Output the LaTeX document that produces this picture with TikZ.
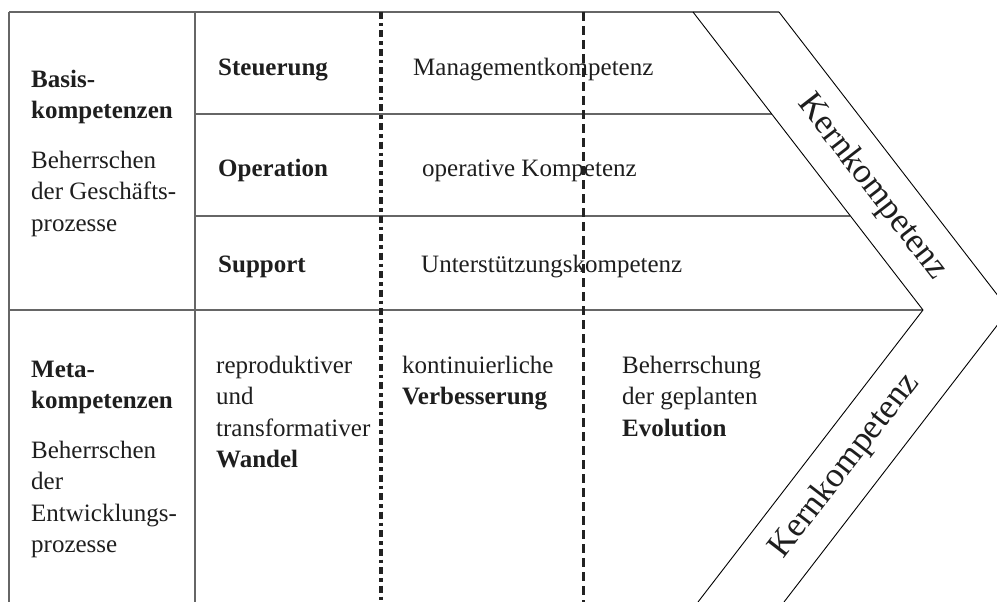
\documentclass[tikz,border=0pt]{standalone}
\usepackage{fontspec}
\setmainfont{Liberation Serif}
\definecolor{framecol}{HTML}{666666}
\definecolor{dashcol}{HTML}{222222}
\definecolor{textcol}{HTML}{1E1E1E}
\begin{document}
\begin{tikzpicture}[x=1pt,y=-1pt,
  frame/.style={draw=framecol, line width=1.2pt},
  diag/.style={draw=black, line width=0.9pt},
  dotline/.style={draw=dashcol, line width=4.5pt, dash pattern=on 7pt off 4pt on 3.5pt off 4pt},
  dashline/.style={draw=dashcol, line width=3pt, dash pattern=on 9pt off 5pt},
  txt/.style={anchor=north west, inner sep=0pt, align=left, font=\fontsize{25}{31.5}\selectfont, text=textcol},
  kern/.style={inner sep=0pt, font=\fontsize{35}{38}\selectfont, text=textcol}]
\useasboundingbox (0,0) rectangle (997,602);
% key points
\coordinate (tl) at (9,12);
\coordinate (bl) at (9,602);
\coordinate (dt) at (195,12);
\coordinate (db) at (195,602);
\coordinate (r1l) at (195,114);
\coordinate (r1r) at (772,114);
\coordinate (r2l) at (195,216);
\coordinate (r2r) at (850,216);
\coordinate (ml) at (9,310);
\coordinate (itop) at (693,12);
\coordinate (itip) at (923,310);
\coordinate (ibot) at (698,602);
\coordinate (otop) at (779,12);
\coordinate (otip) at (1009,310);
\coordinate (obot) at (784,602);
\coordinate (v1t) at (381,12);
\coordinate (v1b) at (381,602);
\coordinate (v2t) at (583,12);
\coordinate (v2b) at (583,602);
% frame
\draw[frame] (tl) -- (otop);
\draw[frame] (tl) -- (bl);
\draw[frame] (dt) -- (db);
\draw[frame] (r1l) -- (r1r);
\draw[frame] (r2l) -- (r2r);
\draw[frame] (ml) -- (itip);
% chevron
\begin{scope}
\clip (0,0) rectangle (997,602);
\draw[diag] (itop) -- (itip) -- (ibot);
\draw[diag] (otop) -- (otip) -- (obot);
\end{scope}
% separators
\draw[dotline] (v1t) -- (v1b);
\draw[dashline] (v2t) -- (v2b);
% texts
\node[txt] (basis) at (31,65) {\strut\textbf{Basis-}\\\textbf{kompetenzen}};
\node[txt] (bh1) at (31,146) {\strut Beherrschen\\der Geschäfts-\\prozesse};
\node[txt] (steu) at (218,53) {\strut\textbf{Steuerung}};
\node[txt] (oper) at (218,154) {\strut\textbf{Operation}};
\node[txt] (supp) at (218,250) {\strut\textbf{Support}};
\node[txt] (mgmt) at (413,53) {\strut Managementkompetenz};
\node[txt] (opk) at (422,154) {\strut operative Kompetenz};
\node[txt] (unt) at (421,250) {\strut Unterstützungskompetenz};
\node[txt] (meta) at (31,355) {\strut\textbf{Meta-}\\\textbf{kompetenzen}};
\node[txt] (bh2) at (31,436) {\strut Beherrschen\\der\\Entwicklungs-\\prozesse};
\node[txt] (wandel) at (216,351) {\strut reproduktiver\\und\\transformativer\\\textbf{Wandel}};
\node[txt] (verb) at (402,351) {\strut kontinuierliche\\\textbf{Verbesserung}};
\node[txt] (evol) at (622,351) {\strut Beherrschung\\der geplanten\\\textbf{Evolution}};
\node[kern, rotate=-52.3] (kern1) at (872,187) {Kernkompetenz};
\node[kern, rotate=52.3] (kern2) at (845,466) {Kernkompetenz};
\end{tikzpicture}
\end{document}
